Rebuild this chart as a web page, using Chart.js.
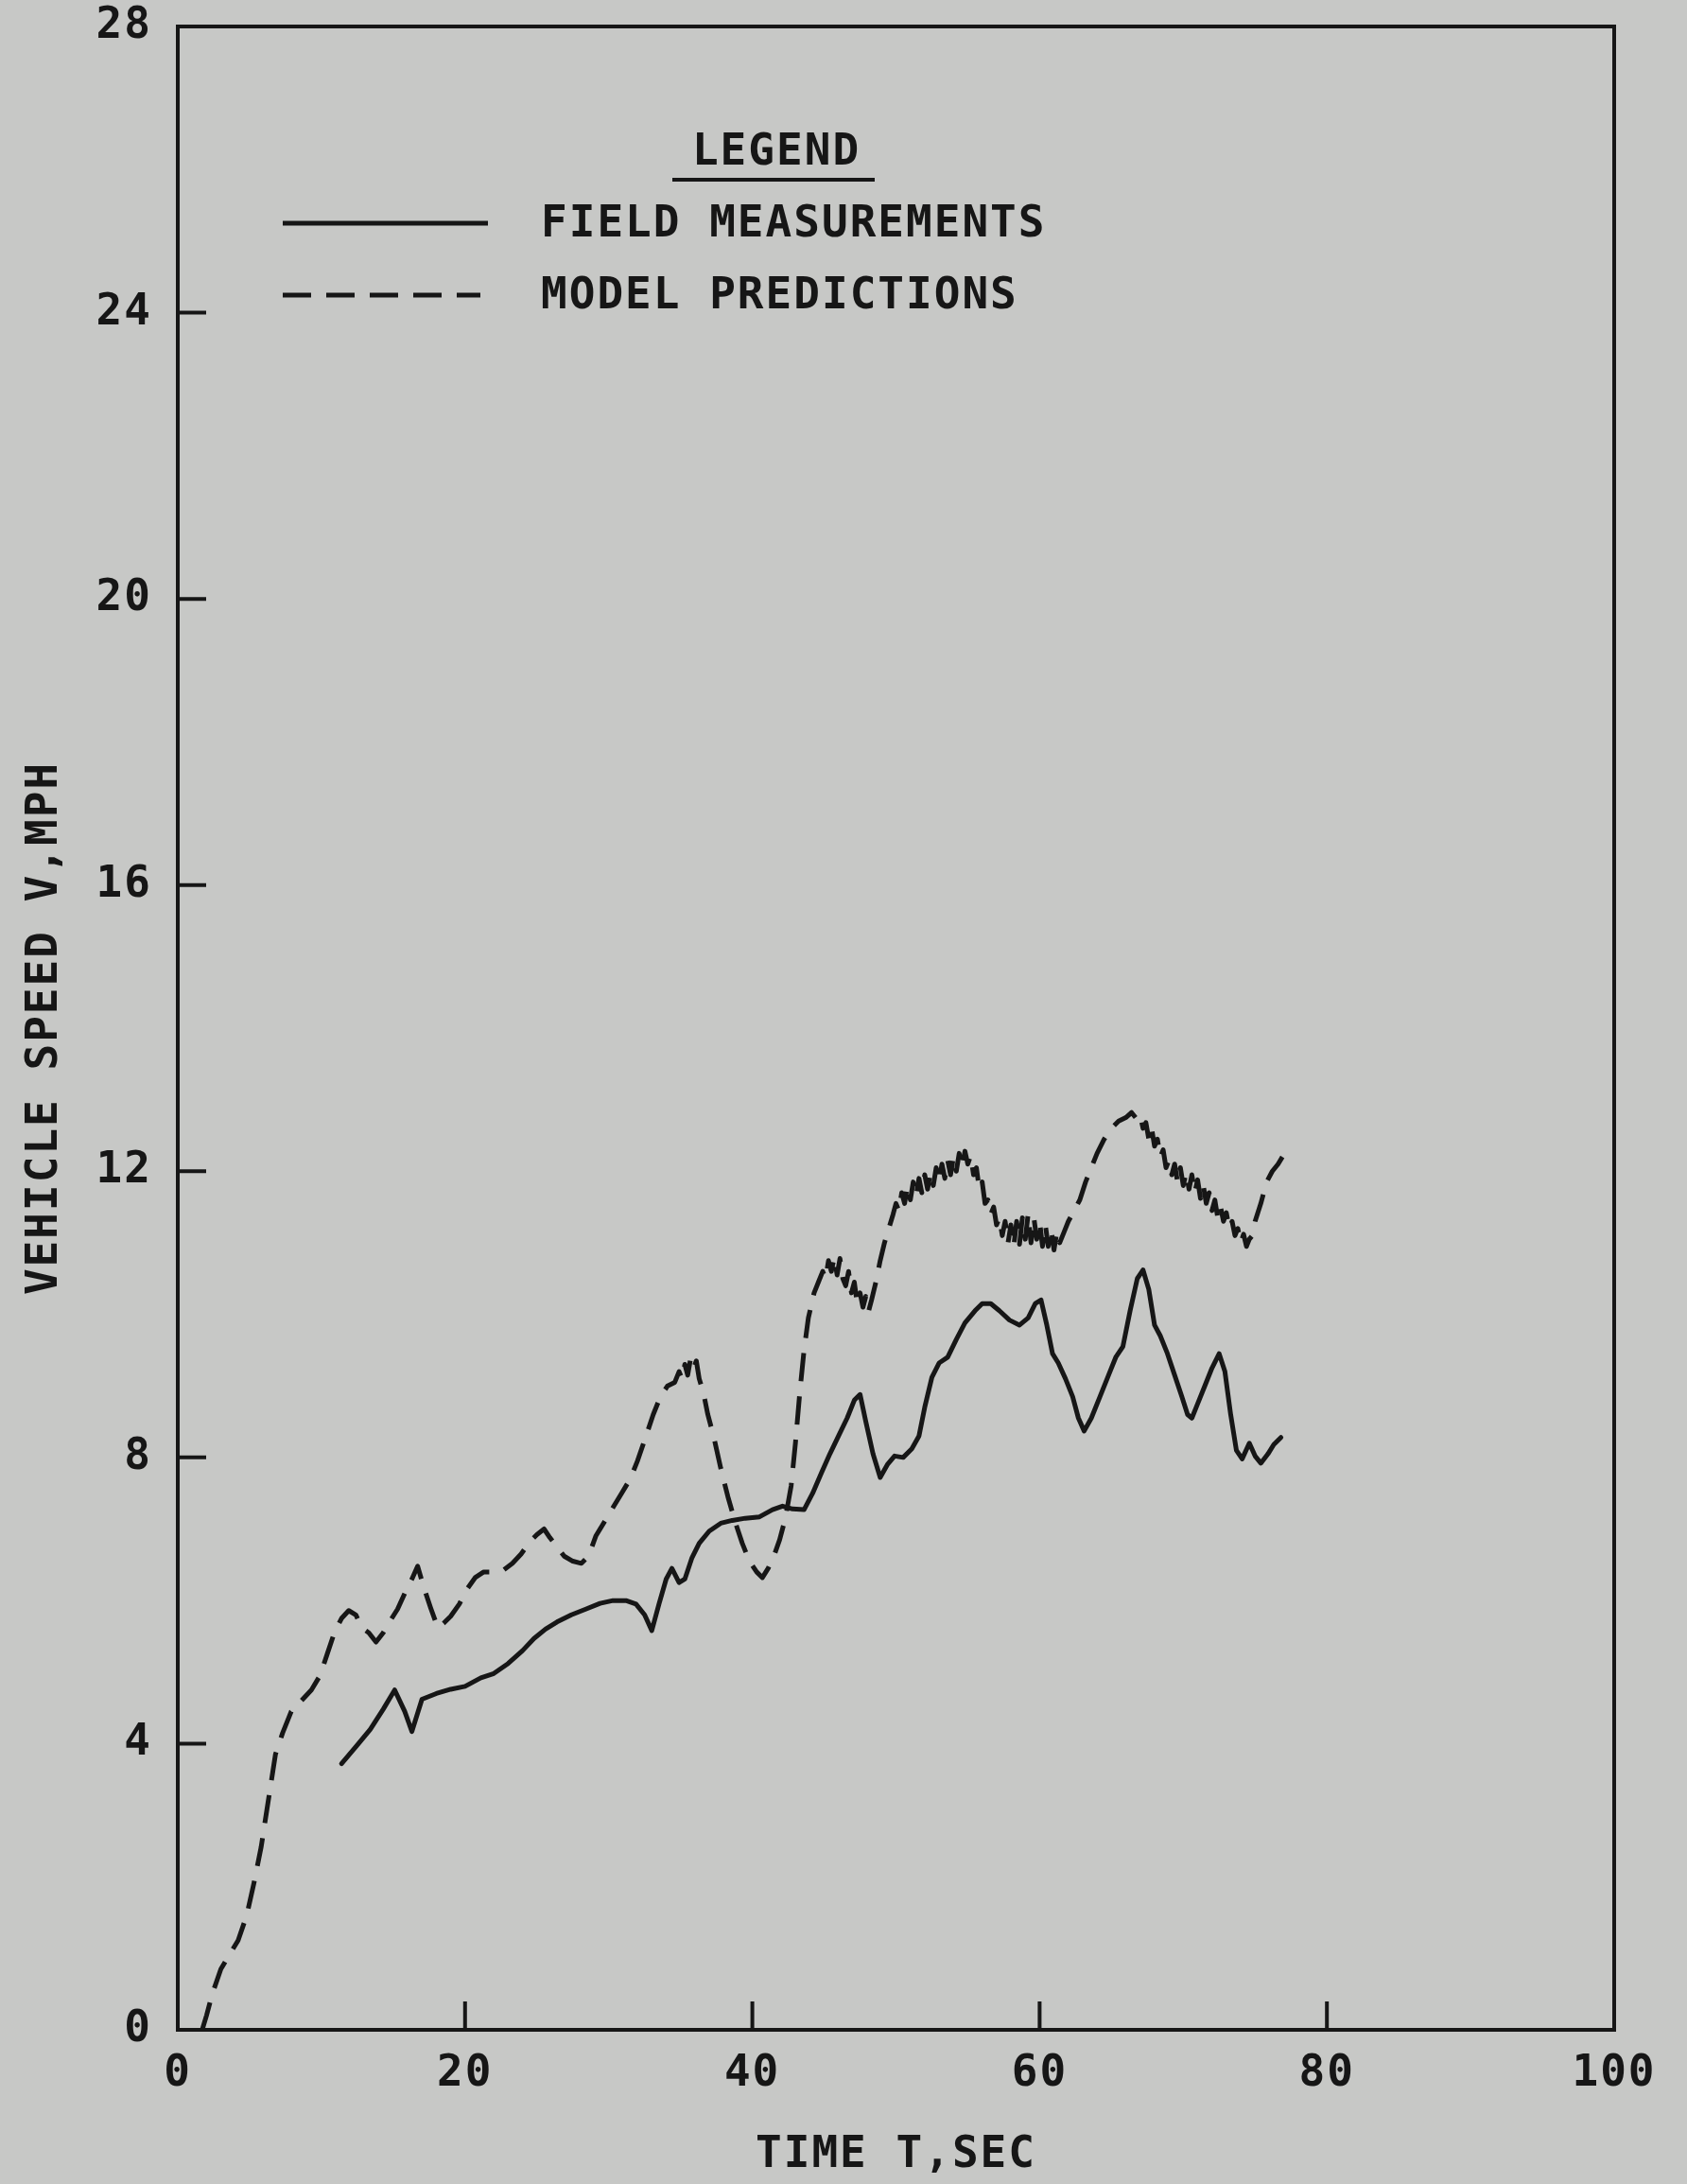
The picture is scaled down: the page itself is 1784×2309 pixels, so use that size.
<!DOCTYPE html>
<html>
<head>
<meta charset="utf-8">
<script src="https://cdn.jsdelivr.net/npm/chart.js@4/dist/chart.umd.min.js"></script>
<style>
  html, body { margin: 0; padding: 0; background: #c7c8c6; }
  canvas { display: block; }
</style>
</head>
<body>
<canvas id="c" width="1784" height="2309"></canvas>
<script>
// ---- DATA ----
const seriesLabels = ['FIELD MEASUREMENTS', 'MODEL PREDICTIONS'];
const xTickValues = [0, 20, 40, 60, 80, 100];
const yTickValues = [0, 4, 8, 12, 16, 20, 24, 28];
const xTitle = 'TIME T,SEC';
const yTitle = 'VEHICLE SPEED V,MPH';
const legendTitle = 'LEGEND';

const tField = [11.4, 12.5, 13.4, 14.3, 15.1, 15.8, 16.3, 17.0, 18.0, 19.0, 20.0, 21.1, 22.0, 23.0, 24.0, 24.8, 25.6, 26.4, 27.4, 28.4, 29.4, 30.3, 31.2, 31.9, 32.5, 33.0, 33.5, 34.0, 34.4, 34.9, 35.3, 35.8, 36.3, 37.0, 37.8, 38.6, 39.5, 40.5, 41.4, 42.1, 42.8, 43.6, 44.2, 44.8, 45.4, 46.0, 46.6, 47.1, 47.5, 47.9, 48.4, 48.9, 49.4, 49.9, 50.5, 51.1, 51.6, 52.0, 52.5, 53.0, 53.6, 54.2, 54.8, 55.5, 56.0, 56.6, 57.2, 57.9, 58.6, 59.2, 59.7, 60.1, 60.5, 60.9, 61.3, 61.8, 62.3, 62.7, 63.1, 63.6, 64.2, 64.8, 65.3, 65.8, 66.3, 66.8, 67.2, 67.6, 68.0, 68.4, 68.9, 69.4, 69.9, 70.3, 70.6, 71.0, 71.5, 72.0, 72.5, 72.9, 73.3, 73.7, 74.1, 74.6, 75.0, 75.4, 75.9, 76.3, 76.8];
const vField = [3.72, 3.98, 4.2, 4.48, 4.75, 4.45, 4.17, 4.62, 4.7, 4.76, 4.8, 4.92, 4.98, 5.12, 5.3, 5.47, 5.6, 5.7, 5.8, 5.88, 5.96, 6.0, 6.0, 5.95, 5.8, 5.58, 5.95, 6.3, 6.45, 6.25, 6.3, 6.6, 6.8, 6.97, 7.08, 7.12, 7.15, 7.17, 7.27, 7.32, 7.28, 7.27, 7.5, 7.78, 8.05, 8.3, 8.55, 8.8, 8.88, 8.5, 8.05, 7.72, 7.9, 8.02, 8.0, 8.12, 8.3, 8.7, 9.12, 9.32, 9.4, 9.65, 9.88, 10.05, 10.15, 10.15, 10.05, 9.92, 9.85, 9.95, 10.15, 10.2, 9.85, 9.45, 9.32, 9.1, 8.85, 8.55, 8.37, 8.55, 8.85, 9.15, 9.4, 9.55, 10.05, 10.5, 10.62, 10.35, 9.85, 9.7, 9.45, 9.15, 8.85, 8.6, 8.55, 8.75, 9.0, 9.25, 9.45, 9.2, 8.6, 8.1, 7.98, 8.2, 8.02, 7.92, 8.05, 8.18, 8.28];

const tModel = [1.7, 2.0, 2.4, 3.0, 3.6, 4.2, 4.8, 5.3, 5.8, 6.3, 6.8, 7.3, 7.9, 8.6, 9.3, 9.9, 10.4, 10.9, 11.4, 11.9, 12.4, 12.8, 13.3, 13.8, 14.3, 14.8, 15.3, 15.8, 16.3, 16.7, 17.1, 17.6, 18.1, 18.5, 19.0, 19.6, 20.1, 20.7, 21.3, 22.0, 22.7, 23.3, 23.9, 24.5, 25.0, 25.5, 25.9, 26.4, 26.9, 27.5, 28.1, 28.6, 29.1, 29.7, 30.3, 30.9, 31.5, 32.0, 32.6, 33.1, 33.6, 34.1,
  34.6, 34.9, 35.1, 35.3, 35.5, 35.7, 35.9, 36.1, 36.3, 36.6, 36.9, 37.3, 37.8, 38.3, 38.8, 39.3, 39.8, 40.3, 40.7, 41.1, 41.5, 41.9, 42.3, 42.7, 43.0, 43.3, 43.6, 43.9,
  44.3, 44.6, 44.9, 45.1, 45.3, 45.5, 45.7, 45.9, 46.1, 46.3, 46.5, 46.7, 46.9, 47.1, 47.3, 47.5, 47.7, 47.9, 48.1, 48.3, 48.6, 48.9, 49.2, 49.5, 49.8, 50.0, 50.2, 50.4, 50.6, 50.8, 51.0, 51.2, 51.4, 51.6, 51.8, 52.0, 52.2, 52.4, 52.6, 52.8, 53.0, 53.2, 53.4, 53.6, 53.8, 54.0, 54.2, 54.4, 54.6, 54.8, 55.0, 55.2, 55.4, 55.6, 55.8, 56.0, 56.2, 56.4, 56.6, 56.8, 57.0, 57.2, 57.4, 57.6, 57.8, 58.0, 58.2, 58.4, 58.6, 58.8, 59.0, 59.2, 59.4, 59.6, 59.8, 60.0, 60.2, 60.4, 60.6, 60.8, 61.0, 61.2, 61.4, 61.7, 62.0,
  62.4, 62.8, 63.2, 63.6, 64.0, 64.5, 65.0, 65.5, 66.0, 66.4,
  66.8, 67.0, 67.2, 67.4, 67.6, 67.8, 68.0, 68.2, 68.4, 68.6, 68.8, 69.0, 69.2, 69.4, 69.6, 69.8, 70.0, 70.2, 70.4, 70.6, 70.8, 71.0, 71.2, 71.4, 71.6, 71.8, 72.0, 72.2, 72.4, 72.6, 72.8, 73.0, 73.2, 73.4, 73.6, 73.8, 74.0, 74.2, 74.4, 74.6, 74.8, 75.0, 75.4, 75.8, 76.2, 76.6, 76.9];
const vModel = [0.0, 0.2, 0.5, 0.85, 1.05, 1.25, 1.6, 2.05, 2.55, 3.2, 3.85, 4.15, 4.45, 4.6, 4.75, 4.95, 5.25, 5.55, 5.75, 5.86, 5.8, 5.62, 5.55, 5.42, 5.55, 5.72, 5.88, 6.1, 6.3, 6.48, 6.2, 5.9, 5.62, 5.68, 5.78, 5.95, 6.15, 6.32, 6.4, 6.4, 6.43, 6.52, 6.65, 6.82, 6.92, 7.0, 6.88, 6.75, 6.62, 6.55, 6.52, 6.62, 6.9, 7.1, 7.3, 7.5, 7.7, 7.95, 8.3, 8.6, 8.85, 9.0,
  9.05, 9.2, 9.1, 9.3, 9.15, 9.38, 9.25, 9.35, 9.1, 8.9, 8.6, 8.3, 7.85, 7.45, 7.1, 6.8, 6.55, 6.4, 6.32, 6.45, 6.62, 6.85, 7.15, 7.6, 8.2, 8.9, 9.5, 9.95,
  10.3, 10.45, 10.6, 10.5, 10.75, 10.6, 10.8, 10.55, 10.78, 10.5, 10.4, 10.6, 10.3, 10.45, 10.15, 10.3, 10.1, 10.25, 10.05, 10.2, 10.45, 10.75, 11.0, 11.2, 11.4, 11.55, 11.45, 11.7, 11.55, 11.8, 11.6, 11.85, 11.65, 11.9, 11.7, 11.95, 11.75, 11.98, 11.8, 12.05, 11.85, 12.1, 11.9, 12.15, 11.95, 12.2, 12.0, 12.25, 12.05, 12.28, 12.1, 12.22, 11.95, 12.05, 11.75, 11.85, 11.55, 11.6, 11.4, 11.5, 11.25, 11.35, 11.1, 11.3, 11.0, 11.25, 10.95, 11.3, 10.98, 11.35, 11.05, 11.4, 11.0, 11.35, 11.05, 11.3, 10.95, 11.25, 10.95, 11.2, 10.9, 11.15, 11.0, 11.15, 11.3,
  11.45, 11.6, 11.85, 12.05, 12.25, 12.45, 12.6, 12.7, 12.75, 12.82,
  12.72, 12.78, 12.6, 12.68, 12.45, 12.6, 12.35, 12.45, 12.2, 12.3, 12.05, 12.15, 11.95, 12.1, 11.85, 12.05, 11.8, 11.98, 11.75, 11.95, 11.7, 11.88, 11.62, 11.8, 11.55, 11.7, 11.45, 11.6, 11.35, 11.5, 11.3, 11.42, 11.2, 11.3, 11.1, 11.2, 11.0, 11.12, 10.95, 11.05, 11.1, 11.3, 11.55, 11.85, 12.0, 12.1, 12.2];

// ---- STYLE ----
const INK = '#161616';
const BG = '#c7c8c6';
const FAMILY = '"DejaVu Sans Mono", "Liberation Mono", monospace';
const SIZE = 46;
const WEIGHT = 'bold';
const FONT = { family: FAMILY, size: SIZE, weight: WEIGHT, lineHeight: 1.2 };
const FONT_Y = { family: FAMILY, size: SIZE, weight: WEIGHT, lineHeight: 1.0 };
const SPACING = '2px';
const DASH = [30, 16];
const LINE_W = 5;

const paperPlugin = {
  id: 'paper',
  beforeLayout(chart) { chart.ctx.letterSpacing = SPACING; },
  beforeDraw(chart) {
    const ctx = chart.ctx;
    ctx.save();
    ctx.fillStyle = BG;
    ctx.fillRect(0, 0, chart.width, chart.height);
    ctx.restore();
    ctx.letterSpacing = SPACING;
  },
  afterDatasetsDraw(chart) {
    const ctx = chart.ctx;
    const a = chart.chartArea;
    const xs = chart.scales.x, ys = chart.scales.y;
    ctx.save();
    ctx.strokeStyle = INK;
    ctx.lineWidth = 4;
    ctx.lineCap = 'square';
    ctx.strokeRect(a.left, a.top, a.right - a.left, a.bottom - a.top);
    ctx.lineWidth = 4;
    ctx.lineCap = 'butt';
    ctx.beginPath();
    xTickValues.slice(1, -1).forEach(v => {
      const px = xs.getPixelForValue(v);
      ctx.moveTo(px, a.bottom);
      ctx.lineTo(px, a.bottom - 30);
    });
    yTickValues.slice(1, -1).forEach(v => {
      const py = ys.getPixelForValue(v);
      ctx.moveTo(a.left, py);
      ctx.lineTo(a.left + 30, py);
    });
    ctx.stroke();

    // legend
    ctx.letterSpacing = SPACING;
    ctx.font = `${WEIGHT} ${SIZE}px ${FAMILY}`;
    ctx.fillStyle = INK;
    ctx.textBaseline = 'middle';
    ctx.textAlign = 'center';
    ctx.fillText(legendTitle, 821, 162);
    ctx.lineWidth = 4;
    ctx.beginPath();
    ctx.moveTo(711, 190); ctx.lineTo(925, 190);
    ctx.stroke();
    const rows = [{ y: 236, x2: 516 }, { y: 312, x2: 508 }];
    chart.data.datasets.forEach((ds, i) => {
      const r = rows[i];
      ctx.save();
      ctx.strokeStyle = ds.borderColor;
      ctx.lineWidth = ds.borderWidth;
      ctx.setLineDash(ds.borderDash || []);
      ctx.beginPath();
      ctx.moveTo(299, r.y); ctx.lineTo(r.x2, r.y);
      ctx.stroke();
      ctx.restore();
      ctx.textAlign = 'left';
      ctx.fillText(ds.label, 572, r.y + 2);
    });
    ctx.restore();
  }
};

const toPts = (xs, ys) => xs.map((x, i) => ({ x, y: ys[i] }));

new Chart(document.getElementById('c'), {
  type: 'line',
  data: {
    datasets: [
      { label: seriesLabels[0], data: toPts(tField, vField), borderColor: INK, borderWidth: LINE_W, pointRadius: 0, tension: 0, fill: false, borderJoinStyle: 'round', borderCapStyle: 'round' },
      { label: seriesLabels[1], data: toPts(tModel, vModel), borderColor: INK, borderWidth: LINE_W, borderDash: DASH, pointRadius: 0, tension: 0, fill: false, borderJoinStyle: 'round' }
    ]
  },
  options: {
    responsive: false,
    animation: false,
    devicePixelRatio: 1,
    layout: { padding: { top: 28, right: 77, left: 0, bottom: 0 } },
    plugins: { legend: { display: false }, tooltip: { enabled: false } },
    scales: {
      x: {
        type: 'linear', min: 0, max: 100,
        afterBuildTicks(s) { s.ticks = xTickValues.map(v => ({ value: v })); },
        ticks: { font: FONT, color: INK, padding: 19, maxRotation: 0, autoSkip: false },
        grid: { display: false, drawTicks: false },
        border: { display: false },
        title: { display: true, text: xTitle, font: FONT, color: INK, padding: { top: 0, bottom: 2 } },
        afterFit(s) { s.height = 163; s.paddingLeft = 0; s.paddingRight = 0; }
      },
      y: {
        type: 'linear', min: 0, max: 28,
        afterBuildTicks(s) { s.ticks = yTickValues.map(v => ({ value: v })); },
        ticks: { font: FONT_Y, color: INK, padding: 27, autoSkip: false },
        grid: { display: false, drawTicks: false },
        border: { display: false },
        title: { display: true, text: yTitle, font: FONT, color: INK, padding: { top: 20, bottom: 0 } },
        afterFit(s) { s.width = 188; s.paddingTop = 0; s.paddingBottom = 0; }
      }
    }
  },
  plugins: [paperPlugin]
});
</script>
</body>
</html>
